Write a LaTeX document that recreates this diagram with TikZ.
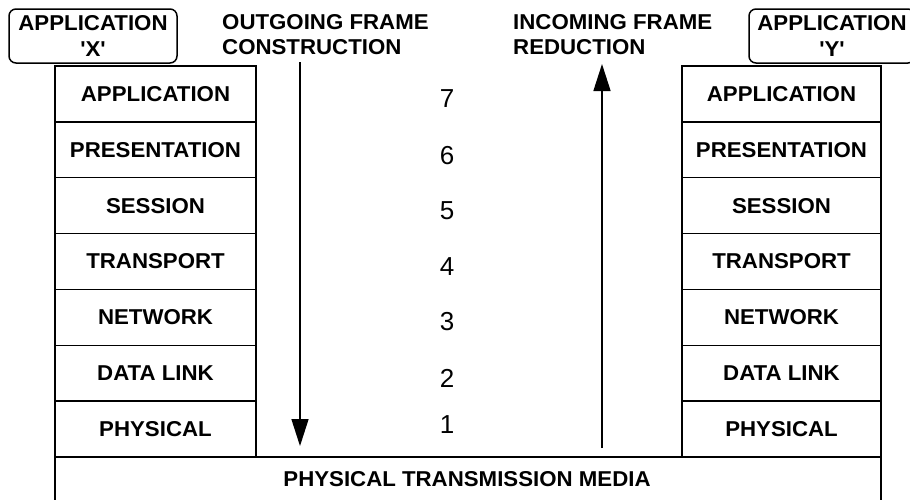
\documentclass[tikz,border=0pt]{standalone}
\usepackage{fontspec}
\newfontfamily\lsans{Liberation Sans}[FakeStretch=1.035]
\newfontfamily\lnum{Liberation Sans}
\usetikzlibrary{arrows.meta}
\begin{document}
\begin{tikzpicture}[x=1pt,y=-1pt,
  edge/.style={line width=1.5pt},
  lbl/.style={font=\lsans\fontsize{21.5}{25.6}\selectfont\bfseries},
  layer/.style={draw, edge, lbl, minimum height=55.86pt, inner sep=0pt},
  appbox/.style={draw, edge, lbl, rounded corners=7pt, align=center, inner sep=0pt},
  heading/.style={lbl, align=left, anchor=north west, inner sep=0pt},
  num/.style={font=\lnum\fontsize{26}{28}\selectfont},
  flow/.style={line width=1.5pt, -{Triangle[length=27pt,width=17pt]}}
]
\clip (0,0) rectangle (910,499);

% protocol stacks
\foreach \t [count=\i] in {APPLICATION,PRESENTATION,SESSION,TRANSPORT,NETWORK,DATA LINK,PHYSICAL}{
  \node[layer, minimum width=201pt] (L\i) at (155.5,{66+55.86*(\i-0.5)}) {\t};
  \node[layer, minimum width=199pt] (R\i) at (781.5,{66+55.86*(\i-0.5)}) {\t};
}

% layer numbers
\foreach \n/\y in {7/99,6/156,5/211,4/267,3/322,2/378,1/425}{
  \node[num] (n\n) at (447,\y) {\n};
}

% application end points
\node[appbox, minimum width=168pt, minimum height=54pt] (appX) at (93,36) {APPLICATION\\'X'};
\node[appbox, minimum width=166pt, minimum height=54pt] (appY) at (832,36) {APPLICATION\\'Y'};

% headings
\node[heading] (out) at (222,14) {OUTGOING FRAME\\CONSTRUCTION};
\node[heading] (in) at (513,14) {INCOMING FRAME\\REDUCTION};

% shared medium
\draw[edge] (55,520) -- (55,457) -- (881,457) -- (881,520);
\node[lbl] (media) at (467,479) {PHYSICAL TRANSMISSION MEDIA};

% frame flow
\coordinate (downS) at (300,62);
\coordinate (downE) at (300,446);
\coordinate (upS) at (602,448);
\coordinate (upE) at (602,64);
\draw[flow] (downS) -- (downE);
\draw[flow] (upS) -- (upE);
\end{tikzpicture}
\end{document}
